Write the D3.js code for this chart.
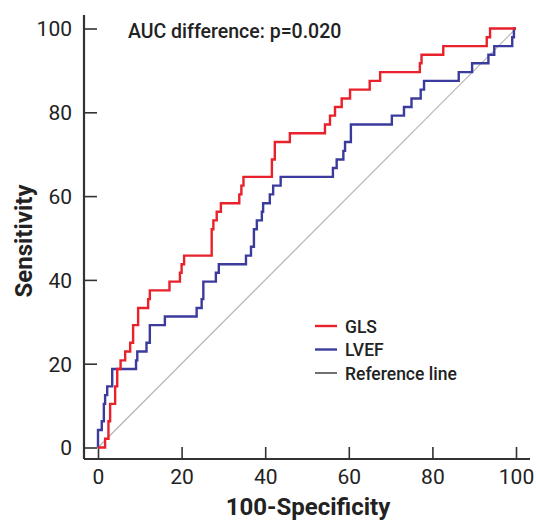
<!DOCTYPE html>
<html>
<head>
<meta charset="utf-8">
<script src="https://cdn.jsdelivr.net/npm/d3@7/dist/d3.min.js"></script>
<style>
  html, body { margin: 0; padding: 0; background: #fff; }
  svg { display: block; font-family: Roboto, "Noto Sans", sans-serif; }
</style>
</head>
<body>
<div id="chart"></div>
<script>
// ROC step points (100-specificity, sensitivity)
const glsFpr = [0, 1.7, 2.5, 2.9, 4.1, 4.6, 5.4, 6.5, 7.7, 8.4,
  9.6, 12.0, 12.4, 17.1, 19.6, 20.0, 20.6, 27.2, 27.6, 28.4,
  29.4, 33.8, 34.3, 34.8, 41.6, 42.3, 45.9, 54.3, 55.5, 56.7,
  58.3, 60.3, 65.0, 67.5, 77.0, 77.4, 82.6, 93.0, 93.8, 100]
const glsTpr = [0, 2.08, 6.25, 10.4, 14.6, 18.75, 20.8, 22.9, 25, 29.2,
  33.3, 35.4, 37.5, 39.6, 41.7, 43.75, 45.8, 52.1, 54.2, 56.25,
  58.3, 60.4, 62.5, 64.6, 68.75, 72.9, 75, 77.1, 79.2, 81.25,
  83.3, 85.4, 87.5, 89.6, 91.7, 93.75, 95.8, 97.9, 100, 100]

const lvefFpr = [0, 0, 0.9, 1.4, 1.7, 2.2, 3.4, 9.1, 9.4, 11.6,
  12.4, 16.0, 23.6, 24.8, 25.2, 28.2, 28.9, 35.4, 36.6, 37.3,
  38.0, 39.2, 39.5, 41.1, 41.9, 43.7, 56.2, 57.1, 58.7, 59.1,
  60.5, 70.3, 73.2, 75.0, 77.2, 78.0, 86.3, 89.5, 93.4, 94.8,
  99.1, 99.5, 100]
const lvefTpr = [0, 4.17, 6.25, 10.4, 12.5, 14.6, 18.75, 20.8, 22.9, 25,
  29.2, 31.25, 33.3, 35.4, 39.6, 41.7, 43.75, 45.8, 47.9, 52.1,
  54.2, 56.25, 58.3, 60.4, 62.5, 64.6, 66.7, 68.75, 70.8, 72.9,
  77.1, 79.2, 81.25, 83.3, 85.4, 87.5, 89.6, 91.7, 93.75, 95.8,
  97.9, 100, 100]

const majorTicks = [0, 20, 40, 60, 80, 100]
const minorTicks = d3.range(0, 101, 5)
const legendLabels = ["GLS", "LVEF", "Reference line"]

const W = 536, H = 522
const RED = "#e8212b", BLUE = "#3b3b9e", REF = "#b4b4b4", AXIS = "#333"

const svg = d3.select("#chart").append("svg")
  .attr("width", W).attr("height", H)

const x = d3.scaleLinear().domain([0, 100]).range([98, 516])
const y = d3.scaleLinear().domain([0, 100]).range([447.5, 28.5])

const axisY0 = 459, axisX0 = 84

// axis lines (offset from the data origin)
svg.append("line")
  .attr("x1", axisX0).attr("x2", 530).attr("y1", axisY0).attr("y2", axisY0)
  .attr("stroke", AXIS).attr("stroke-width", 2.2)
svg.append("line")
  .attr("x1", axisX0).attr("x2", axisX0).attr("y1", 15).attr("y2", axisY0)
  .attr("stroke", AXIS).attr("stroke-width", 2.2)

// x ticks
const gx = svg.append("g").attr("transform", `translate(0,${axisY0})`)
gx.call(d3.axisBottom(x).tickValues(minorTicks).tickSize(-6).tickFormat(""))
gx.call(d3.axisBottom(x).tickValues(majorTicks).tickSize(-12).tickPadding(0))
gx.selectAll(".domain").remove()
gx.selectAll("line").attr("stroke", AXIS).attr("stroke-width", 1.6)
gx.selectAll("text")
  .attr("y", 25).attr("dy", 0)
  .attr("font-size", 21).attr("fill", "#222")
  .attr("font-family", "Roboto")

// y ticks
const gy = svg.append("g").attr("transform", `translate(${axisX0},0)`)
gy.call(d3.axisLeft(y).tickValues(minorTicks).tickSize(-7).tickFormat(""))
gy.call(d3.axisLeft(y).tickValues(majorTicks).tickSize(-13).tickPadding(0))
gy.selectAll(".domain").remove()
gy.selectAll("line").attr("stroke", AXIS).attr("stroke-width", 1.6)
gy.selectAll("text")
  .attr("x", -12).attr("dy", "0.35em")
  .attr("font-size", 21).attr("fill", "#222")
  .attr("font-family", "Roboto")

// axis titles
svg.append("text")
  .attr("x", 308).attr("y", 515)
  .attr("text-anchor", "middle")
  .attr("font-size", 24).attr("font-weight", 700).attr("fill", "#222")
  .text("100-Specificity")
svg.append("text")
  .attr("transform", "translate(32,241) rotate(-90)")
  .attr("text-anchor", "middle")
  .attr("font-size", 24).attr("font-weight", 700).attr("fill", "#222")
  .text("Sensitivity")

// reference diagonal
svg.append("line")
  .attr("x1", x(0)).attr("y1", y(0)).attr("x2", x(100)).attr("y2", y(100))
  .attr("stroke", REF).attr("stroke-width", 1.2)

const step = d3.line().curve(d3.curveStepAfter)
  .x(d => x(d[0])).y(d => y(d[1]))

svg.append("path")
  .datum(d3.zip(lvefFpr, lvefTpr))
  .attr("d", step)
  .attr("fill", "none").attr("stroke", BLUE).attr("stroke-width", 2.4)

svg.append("path")
  .datum(d3.zip(glsFpr, glsTpr))
  .attr("d", step)
  .attr("fill", "none").attr("stroke", RED).attr("stroke-width", 2.4)

// annotation
svg.append("text")
  .attr("x", 128).attr("y", 38)
  .attr("font-size", 19.5).attr("font-weight", 500).attr("fill", "#222")
  .text("AUC difference: p=0.020")

// legend
const legend = svg.append("g").attr("transform", "translate(315,326)")
const legendColors = [RED, BLUE, "#222"]
legendLabels.forEach((label, i) => {
  const row = legend.append("g").attr("transform", `translate(0,${i * 23.5})`)
  row.append("line")
    .attr("x1", 0).attr("x2", 22).attr("y1", 0).attr("y2", 0)
    .attr("stroke", legendColors[i]).attr("stroke-width", i < 2 ? 2.4 : 1.3)
  row.append("text")
    .attr("x", 30).attr("y", 6.5)
    .attr("font-size", 17.5).attr("font-weight", 500).attr("fill", "#222")
    .text(label)
})
</script>
</body>
</html>
